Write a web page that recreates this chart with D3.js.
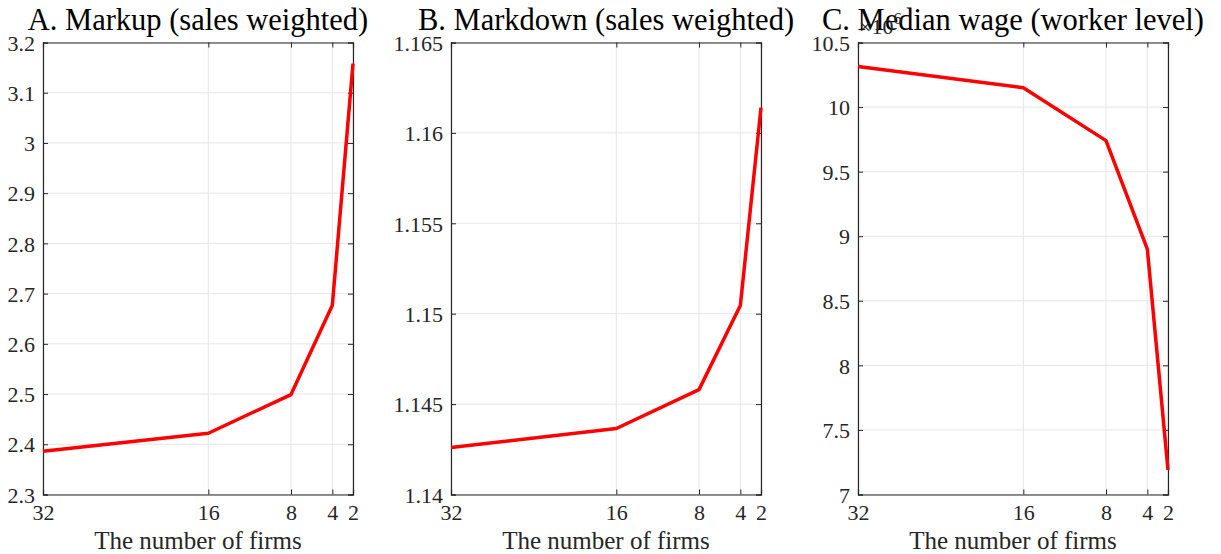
<!DOCTYPE html>
<html>
<head>
<meta charset="utf-8">
<script src="https://cdn.jsdelivr.net/npm/d3@7"></script>
<style>
body { margin: 0; background: #fff; }
text { font-family: "Liberation Serif", "DejaVu Serif", serif; fill: #262626; }
.title { font-size: 30.5px; fill: #000; }
.xlabel { font-size: 25px; }
</style>
</head>
<body>
<svg width="1221" height="554"></svg>
<script>
var firms = [32, 16, 8, 4, 2];
var xTicks = [32, 16, 8, 4, 2];

var markup = [2.386, 2.422, 2.499, 2.677, 3.158];
var markdown = [1.1426, 1.14365, 1.1458, 1.15045, 1.1614];
var wage = [10.315, 10.15, 9.74, 8.90, 7.19]; // x10^6

var titles = ["A. Markup (sales weighted)", "B. Markdown (sales weighted)", "C. Median wage (worker level)"];
var yDomains = [[2.3, 3.2], [1.14, 1.165], [7, 10.5]];
var yTicks = [
  [2.3, 2.4, 2.5, 2.6, 2.7, 2.8, 2.9, 3, 3.1, 3.2],
  [1.14, 1.145, 1.15, 1.155, 1.16, 1.165],
  [7, 7.5, 8, 8.5, 9, 9.5, 10, 10.5]
];
var series = [markup, markdown, wage];

var svg = d3.select("svg");
var lefts = [43, 451, 858];
var plotW = 310, plotTop = 42.5, plotH = 452;
var axisColor = "#262626", gridColor = "#e6e6e6";

lefts.forEach(function(left, p) {
  var g = svg.append("g").attr("transform", "translate(" + left + "," + plotTop + ")");
  var x = d3.scaleLinear().domain([32, 2]).range([0, plotW]);
  var y = d3.scaleLinear().domain(yDomains[p]).range([plotH, 0]);

  // grid
  g.selectAll(".gx").data(xTicks).enter().append("line")
    .attr("x1", d => x(d)).attr("x2", d => x(d))
    .attr("y1", 0).attr("y2", plotH)
    .style("stroke", gridColor).style("stroke-width", 1);
  g.selectAll(".gy").data(yTicks[p]).enter().append("line")
    .attr("x1", 0).attr("x2", plotW)
    .attr("y1", d => y(d)).attr("y2", d => y(d))
    .style("stroke", gridColor).style("stroke-width", 1);

  var fmt = function(d) { return String(+d.toFixed(3)); };

  // axes (ticks inward, MATLAB box)
  var ax = g.append("g").attr("transform", "translate(0," + plotH + ")")
    .call(d3.axisBottom(x).tickValues(xTicks).tickSize(-5).tickPadding(10).tickFormat(d3.format("d")));
  var axTop = g.append("g")
    .call(d3.axisTop(x).tickValues(xTicks).tickSize(-5).tickFormat(""));
  var ay = g.append("g")
    .call(d3.axisLeft(y).tickValues(yTicks[p]).tickSize(-5).tickPadding(8).tickFormat(fmt));
  var ayR = g.append("g").attr("transform", "translate(" + plotW + ",0)")
    .call(d3.axisRight(y).tickValues(yTicks[p]).tickSize(-5).tickFormat(""));
  [ax, axTop, ay, ayR].forEach(function(a) {
    a.selectAll("path").style("stroke", axisColor).style("stroke-width", 1.2);
    a.selectAll("line").style("stroke", axisColor).style("stroke-width", 1);
    a.selectAll("text").style("fill", axisColor).style("font-family", "Liberation Serif, serif").style("font-size", "22px");
  });
  ax.selectAll("text").attr("dy", "0.71em");
  ay.selectAll("text").attr("dy", "0.35em");

  // line
  var line = d3.line().x((d, i) => x(firms[i])).y(d => y(d));
  g.append("path").datum(series[p])
    .attr("d", line)
    .style("fill", "none").style("stroke", "#ff0000").style("stroke-width", 3.5)
    .style("stroke-linejoin", "round");

  // labels
  svg.append("text").attr("class", "title")
    .attr("x", left + plotW / 2).attr("y", 30)
    .attr("text-anchor", "middle").text(titles[p]);
  svg.append("text").attr("class", "xlabel")
    .attr("x", left + plotW / 2).attr("y", 549)
    .attr("text-anchor", "middle").text("The number of firms");

  if (p === 2) {
    var ex = svg.append("text").attr("x", left + 1).attr("y", 34).style("font-size", "22px");
    ex.append("tspan").text("\u00d710");
    ex.append("tspan").attr("dy", -10).style("font-size", "16px").text("6");
  }
});
</script>
</body>
</html>
